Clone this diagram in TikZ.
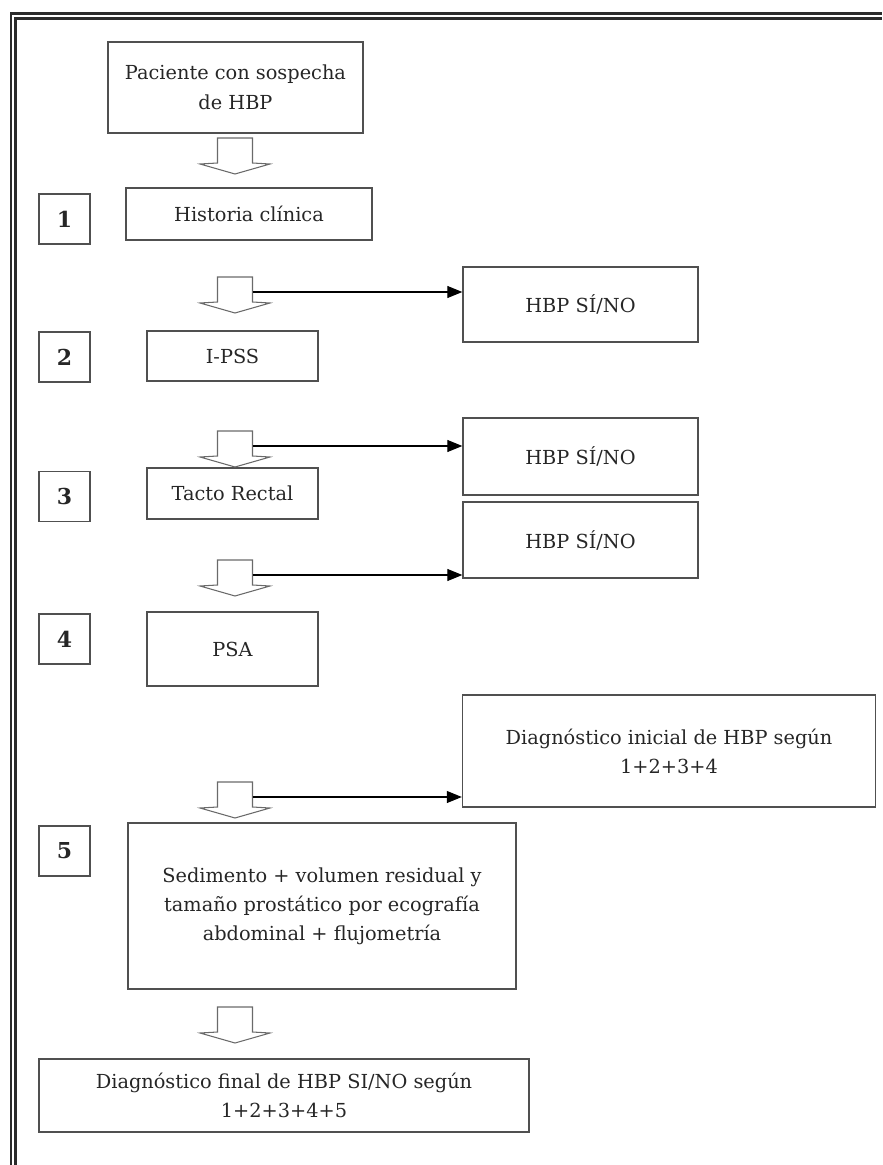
\documentclass[tikz,border=0pt]{standalone}
\usepackage{fontspec}
\setmainfont{DejaVu Serif}
\usetikzlibrary{arrows.meta}
\definecolor{framegray}{HTML}{2B2B2B}
\definecolor{boxgray}{HTML}{505050}
\definecolor{arrgray}{HTML}{6A6A6A}
\definecolor{textgray}{HTML}{262626}

\begin{document}
\begin{tikzpicture}[
  x=0.02cm, y=-0.02cm,
  font=\fontsize{11}{16.5}\selectfont, text=textgray,
  wh/.style 2 args={minimum width=#1*0.02cm, minimum height=#2*0.02cm},
  box/.style={draw=boxgray, line width=0.8pt, align=center, inner sep=2pt},
  numbox/.style={box, font=\fontsize{12.5}{15}\selectfont\bfseries, wh={51}{50}},
  link/.style={-{Triangle[length=0.3cm, width=0.24cm]}, line width=0.6pt},
  downarr/.pic={
    \draw[draw=arrgray, line width=0.6pt, line join=miter]
      (-17.5,0) -- (17.5,0) -- (17.5,25) -- (35,26) -- (0,36)
      -- (-35,26) -- (-17.5,25) -- cycle;
    \coordinate (-out) at (17.5,15);
  },
]
\useasboundingbox (0,0) rectangle (882,1165);
% double frame, left and top
\draw[framegray, line width=1.7pt] (11,1165) -- (11,13.5) -- (882,13.5);
\draw[framegray, line width=1.4pt] (15.7,1165) -- (15.7,18.7) -- (882,18.7);

% main column
\node[box, wh={255}{91}, font=\fontsize{11}{17}\selectfont] (start) at (235.5,87.5)
  {Paciente con sospecha\\de HBP};
\node[box, wh={246}{52}] (hist) at (249,214) {Historia clínica};
\node[box, wh={171}{50}] (ipss) at (232.5,356) {I-PSS};
\node[box, wh={171}{51}] (tacto) at (232.5,493.5) {Tacto Rectal};
\node[box, wh={171}{74}] (psa) at (232.5,649) {PSA};
\node[box, wh={388}{166}] (sed) at (322,906)
  {Sedimento + volumen residual y\\tamaño prostático por ecografía\\abdominal + flujometría};
\node[box, wh={490}{73}] (final) at (284,1095.5)
  {Diagnóstico final de HBP SI/NO según\\1+2+3+4+5};

% step numbers
\node[numbox] (n1) at (64.5,219) {1};
\node[numbox] (n2) at (64.5,357) {2};
\node[numbox] (n3) at (64.5,496.5) {3};
\node[numbox] (n4) at (64.5,639) {4};
\node[numbox] (n5) at (64.5,851) {5};

% partial results
\node[box, wh={235}{75}] (res1) at (580.5,304.5) {HBP SÍ/NO};
\node[box, wh={235}{77}] (res2) at (580.5,456.5) {HBP SÍ/NO};
\node[box, wh={235}{76}] (res3) at (580.5,540) {HBP SÍ/NO};
\node[box, wh={413}{112}] (inicial) at (669,751)
  {Diagnóstico inicial de HBP según\\1+2+3+4};

% block arrows
\pic (a1) at (235,138) {downarr};
\pic (a2) at (235,277) {downarr};
\pic (a3) at (235,431) {downarr};
\pic (a4) at (235,560) {downarr};
\pic (a5) at (235,782) {downarr};
\pic (a6) at (235,1007) {downarr};

\draw[link] (a2-out) -- (a2-out -| res1.west);
\draw[link] (a3-out) -- (a3-out -| res2.west);
\draw[link] (a4-out) -- (a4-out -| res3.west);
\draw[link] (a5-out) -- (a5-out -| inicial.west);
\end{tikzpicture}
\end{document}
